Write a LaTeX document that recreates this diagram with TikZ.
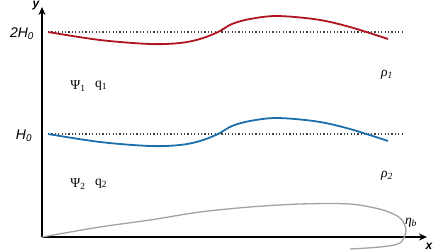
\documentclass[tikz,border=0pt]{standalone}
\usepackage{fontspec}
\setmainfont{Liberation Serif}
\setsansfont{Liberation Sans}
\usetikzlibrary{arrows.meta}
\definecolor{redc}{HTML}{B0141E}
\definecolor{bluec}{HTML}{1C6FAB}
\definecolor{grayc}{HTML}{A3A3A3}
\tikzset{
  axis/.style={line width=1.6pt,-{Stealth[length=8pt,width=7pt]}},
  refline/.style={line width=1.2pt,black!75,dash pattern=on 1.2pt off 2.2pt},
  iface/.style={line width=1.8pt},
  lbl/.style={font=\fontsize{13.5}{15}\selectfont,inner sep=0pt},
  axlbl/.style={font=\sffamily\bfseries\itshape\fontsize{12}{13}\selectfont,inner sep=0pt},
  hlbl/.style={font=\sffamily\itshape\fontsize{14}{16}\selectfont,inner sep=0pt}
}
\begin{document}
\begin{tikzpicture}[x=1pt,y=-1pt]
\useasboundingbox (0,0) rectangle (448,252);
\coordinate (O) at (42,237);
\coordinate (ytip) at (42,7);
\coordinate (xtip) at (427,237);
\draw[axis] (O) -- (ytip);
\draw[axis] (O) -- (xtip);
\node[axlbl] (ylab) at (36,6) {y};
\node[axlbl] (xlab) at (429,246) {x};
% reference levels
\coordinate (r1a) at (48,32); \coordinate (r1b) at (402,32);
\coordinate (r2a) at (48,134); \coordinate (r2b) at (402,134);
\draw[refline] (r1a) -- (r1b);
\draw[refline] (r2a) -- (r2b);
\node[hlbl] (h2) at (22,34) {2H\textsubscript{0}};
\node[hlbl] (h1) at (24,136) {H\textsubscript{0}};
% interfaces
\draw[iface,redc] plot[smooth,tension=0.55] coordinates {(48,32) (100,40) (150,44) (180,43) (200,39) (218,32) (232,24) (250,19) (277,16) (317,19.5) (350,27) (388,39)};
\draw[iface,bluec] plot[smooth,tension=0.55] coordinates {(48,134) (100,142) (150,146) (180,145) (200,141) (218,134) (232,126) (250,121) (277,118) (317,121.5) (350,129) (388,141)};
% bottom
\draw[line width=1.3pt,grayc] plot[smooth,tension=0.5] coordinates {(42,237) (100,227) (150,220) (200,212) (250,207) (300,204) (350,204) (383,210) (400,218) (406,230) (400,243) (380,247) (350,249)};
% labels
\node[lbl] (psi1) at (78,86) {Ψ\textsubscript{1}};
\node[lbl] (q1) at (101,86) {q\textsubscript{1}};
\node[lbl] (psi2) at (78,184) {Ψ\textsubscript{2}};
\node[lbl] (q2) at (101,184) {q\textsubscript{2}};
\node[lbl] (rho1) at (387,75) {\itshape ρ\textsubscript{1}};
\node[lbl] (rho2) at (387,176) {\itshape ρ\textsubscript{2}};
\node[lbl] (etab) at (411,223) {\itshape η\textsubscript{b}};
\end{tikzpicture}
\end{document}
